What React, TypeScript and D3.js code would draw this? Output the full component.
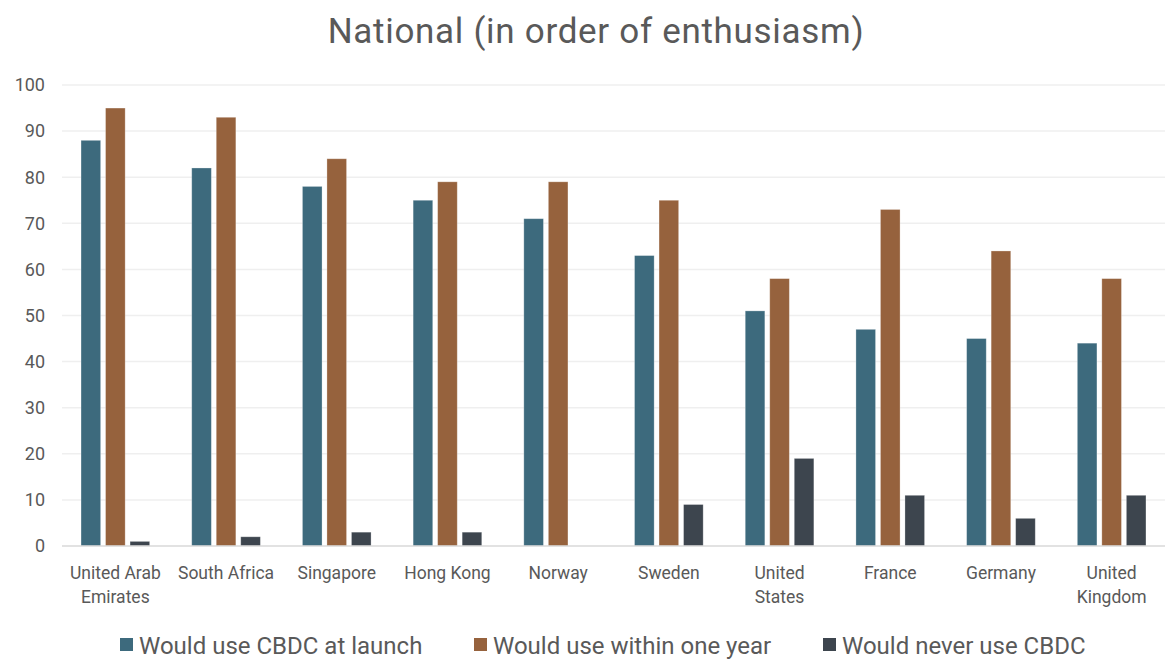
import React, { useEffect } from 'react';
import * as d3 from 'd3';

const countries = [
  'United Arab Emirates', 'South Africa', 'Singapore', 'Hong Kong', 'Norway',
  'Sweden', 'United States', 'France', 'Germany', 'United Kingdom',
];
// labels split into lines as shown under the axis
const countryLines = [
  ['United Arab', 'Emirates'], ['South Africa'], ['Singapore'], ['Hong Kong'], ['Norway'],
  ['Sweden'], ['United', 'States'], ['France'], ['Germany'], ['United', 'Kingdom'],
];
const seriesNames = ['Would use CBDC at launch', 'Would use within one year', 'Would never use CBDC'];
const atLaunch = [88, 82, 78, 75, 71, 63, 51, 47, 45, 44];
const withinYear = [95, 93, 84, 79, 79, 75, 58, 73, 64, 58];
const neverUse = [1, 2, 3, 3, 0, 9, 19, 11, 6, 11];
const yTicks = [0, 10, 20, 30, 40, 50, 60, 70, 80, 90, 100];
const colors = ['#3d6a7d', '#96623d', '#3d454e'];

const W = 1165;
const H = 659;
const FONT = 'Roboto, sans-serif';

export default function App() {
  useEffect(() => {
    document.body.style.margin = '0';
  }, []);

  const series = [atLaunch, withinYear, neverUse];
  const x = d3.scaleBand<string>().domain(countries).range([60, 1167]).paddingInner(0.38).paddingOuter(0.19);
  const xi = d3.scaleBand<number>().domain([0, 1, 2]).range([0, x.bandwidth()]).paddingInner(0.2);
  const y = d3.scaleLinear().domain([0, 100]).range([546, 85]);

  const legendX = [120, 474, 823];

  return (
    <svg width={W} height={H} style={{ display: 'block', background: '#fff' }} fontFamily={FONT}>
      <text x={596} y={43} textAnchor="middle" fontSize={35} letterSpacing={0.7} fill="#595959">
        National (in order of enthusiasm)
      </text>

      {yTicks.map(t => (
        <g key={t}>
          {t > 0 && <line x1={62} x2={1165} y1={y(t)} y2={y(t)} stroke="#efefef" strokeWidth={1.5} />}
          <text x={45} y={y(t)} dy="0.35em" textAnchor="end" fontSize={18} fill="#595959">{t}</text>
        </g>
      ))}

      {countries.map((c, ci) => (
        <g key={c} transform={`translate(${x(c)},0)`}>
          {series.map((s, si) => (
            <rect
              key={si}
              x={xi(si)}
              y={y(s[ci])}
              width={xi.bandwidth()}
              height={y(0) - y(s[ci])}
              fill={colors[si]}
              stroke="#ffffff"
              strokeOpacity={0.35}
              strokeWidth={0.8}
            />
          ))}
        </g>
      ))}

      <line x1={62} x2={1165} y1={y(0)} y2={y(0)} stroke="#d9d9d9" strokeWidth={1.5} />

      {countries.map((c, ci) => (
        <text key={c} x={(x(c) ?? 0) + x.bandwidth() / 2} y={579} textAnchor="middle" fontSize={17.5} fill="#595959">
          {countryLines[ci].map((ln, li) => (
            <tspan key={li} x={(x(c) ?? 0) + x.bandwidth() / 2} dy={li === 0 ? 0 : 23.5}>{ln}</tspan>
          ))}
        </text>
      ))}

      {seriesNames.map((n, i) => (
        <g key={n}>
          <rect x={legendX[i]} y={638} width={13} height={13} fill={colors[i]} />
          <text x={legendX[i] + 19} y={654} fontSize={24} fill="#595959">{n}</text>
        </g>
      ))}
    </svg>
  );
}
